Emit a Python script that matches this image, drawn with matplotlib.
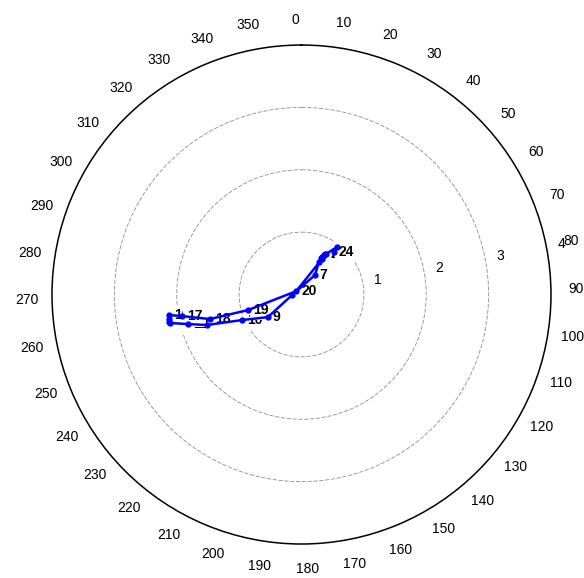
import numpy as np
import matplotlib
matplotlib.use('Agg')
import matplotlib.pyplot as plt

plt.rcParams['font.family'] = ['Liberation Sans', 'DejaVu Sans']

# Hour of day and (direction [deg, clockwise from north], magnitude)
hours = list(range(1, 25))
direction_deg = [29.2, 29.7, 28.7, 30.1, 28.1, 28.3, 34.7, 267.0, 236.1, 246.8,
                 252.1, 255.4, 257.8, 258.3, 259.5, 261.2, 259.8, 255.0, 253.8, 302.5,
                 30.0, 31.2, 36.8, 37.4]
magnitude = [0.71, 0.73, 0.68, 0.75, 0.66, 0.59, 0.38, 0.15, 0.65, 1.04,
             1.59, 1.88, 2.16, 2.17, 2.16, 2.15, 1.95, 1.52, 0.89, 0.10,
             0.66, 0.76, 0.95, 0.86]

ring_values = [1, 2, 3]
r_max = 4
ring_labels = ['1', '2', '3', '4']
angle_ticks = list(range(0, 360, 10))
angle_labels = [str(a) for a in angle_ticks]
label_rotation_deg = -1.2

fig = plt.figure(figsize=(5.84, 5.78), dpi=100)
ax = fig.add_axes([0.089, 0.0588, 0.8545, 0.8633], projection='polar')
ax.set_theta_zero_location('N')
ax.set_theta_direction(-1)

ax.set_thetagrids([(a + label_rotation_deg) % 360 for a in angle_ticks],
                  angle_labels, fontsize=10)
ax.set_thetalim(0, 2 * np.pi)
ax.set_ylim(0, r_max)
ax.xaxis.grid(False)
ax.tick_params(axis='x', length=0, pad=11)
ax.set_yticks(ring_values)
ax.set_yticklabels([])
ax.yaxis.grid(True, color='0.55', linewidth=0.6, linestyle=(0, (5, 2)))
ax.spines['polar'].set_color('black')
ax.spines['polar'].set_linewidth(1.1)

for i, lab in enumerate(ring_labels):
    ax.text(np.deg2rad(79), i + 1 + 0.25, lab, fontsize=10,
            ha='center', va='center')

theta = np.deg2rad(direction_deg)
ax.plot(theta, magnitude, color='#0000ff', linewidth=1.8, marker='.',
        markersize=7, zorder=5)

for h, t, m in zip(hours, theta, magnitude):
    ax.annotate(str(h), (t, m), xytext=(3.5, 0), textcoords='offset points',
                ha='left', va='center', fontsize=10, fontweight='bold',
                color='black', zorder=4,
                bbox=dict(boxstyle='square,pad=0.25', fc='white', ec='none'))

fig.savefig('out.png', dpi=100)
